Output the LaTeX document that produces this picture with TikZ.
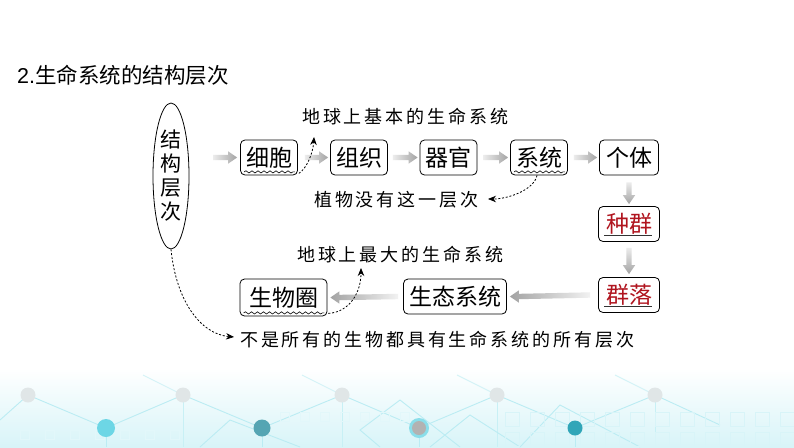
\documentclass[tikz,border=0pt]{standalone}
\usepackage{fontspec}
\setmainfont{Liberation Sans}
\newfontfamily\cjk{Noto Sans CJK SC}
\newfontfamily\cjknote[LetterSpace=16]{Noto Sans CJK SC}
\usetikzlibrary{arrows.meta,decorations.pathmorphing,shapes.geometric,calc}
\definecolor{qred}{HTML}{B0141E}
\definecolor{qcyan}{HTML}{3CC8DC}
\definecolor{qteal}{HTML}{2A8FA0}
\tikzset{
 lbox/.style={draw, line width=0.8pt, rounded corners=4.5pt, inner xsep=5.5pt, inner ysep=0pt, minimum height=35pt, font=\cjk\fontsize{23}{25}\selectfont},
 rbox/.style={lbox, text=qred, minimum width=61pt},
 note/.style={font=\cjknote\fontsize{18}{20}\selectfont, inner sep=0pt, anchor=west},
 dotarrow/.style={line width=0.8pt, dash pattern=on 2pt off 1.8pt, -{Stealth[length=8pt,width=6.5pt]}},
 wave/.style={line width=0.6pt, decorate, decoration={snake, segment length=6pt, amplitude=1.1pt}},
 bgline/.style={qcyan!35, line width=0.9pt},
 bgsq/.style={qcyan!20, line width=0.8pt},
}
\newcommand\garR[2]{\shade[left color=gray!15, right color=gray!72] ($(#1)+(0,2.7)$) -- ($(#2)+(-9,2.7)$) -- ($(#2)+(-9,6.2)$) -- (#2) -- ($(#2)+(-9,-6.2)$) -- ($(#2)+(-9,-2.7)$) -- ($(#1)+(0,-2.7)$) -- cycle;}
\newcommand\garL[2]{\shade[left color=gray!72, right color=gray!10] ($(#1)+(0,2.7)$) -- ($(#2)+(9,2.7)$) -- ($(#2)+(9,6.2)$) -- (#2) -- ($(#2)+(9,-6.2)$) -- ($(#2)+(9,-2.7)$) -- ($(#1)+(0,-2.7)$) -- cycle;}
\newcommand\garD[2]{\shade[top color=gray!15, bottom color=gray!72] ($(#1)+(2.7,0)$) -- ($(#2)+(2.7,-9)$) -- ($(#2)+(6.2,-9)$) -- (#2) -- ($(#2)+(-6.2,-9)$) -- ($(#2)+(-2.7,-9)$) -- ($(#1)+(-2.7,0)$) -- cycle;}
\begin{document}
\begin{tikzpicture}[x=1pt,y=-1pt]
\path[use as bounding box, fill=white] (0,0) rectangle (794,447);
% background decoration
\shade[top color=white, bottom color=qcyan!20] (0,368) rectangle (794,447);
\draw[bgline] (28,395) -- (106,428) -- (183,395) -- (262,428) -- (342,395) -- (419,428) -- (497,395) -- (575,428) -- (655,395) -- (720,425);
\draw[bgline] (0,420) -- (28,395);
\foreach \x in {106,262,419,575} {\draw[bgline] (\x,428) -- (\x,447);}
\foreach \x in {183,342,497,655} {\draw[bgline, qcyan!28] (\x,395) -- (\x,447); \draw[bgline, qcyan!22] (\x,395) -- (\x-40,375);}
\draw[bgline] (200,447) -- (230,420) -- (300,447);
\draw[bgline] (380,447) -- (360,430) -- (400,400) -- (460,447);
\draw[bgline] (430,447) -- (470,415) -- (520,447);
\draw[bgline] (520,447) -- (560,405) -- (640,447);
\foreach \x in {505,530,...,780} {\draw[bgsq] (\x,412) rectangle ++(14,14); \draw[bgsq] (\x,432) rectangle ++(14,14);}
\foreach \x in {20,45,...,170} {\draw[bgsq, qcyan!15] (\x,430) rectangle ++(9,9);}
\foreach \x in {280,300,...,400} {\draw[bgsq, qcyan!15] (\x,412) rectangle ++(9,9);}
\foreach \x in {28,183,342,497,655} {\fill[qcyan!20!gray!22] (\x,395) circle (7.5);}
\fill[qcyan!75] (106,428) circle (9);
\fill[qteal!80] (262,428) circle (8.5);
\fill[qcyan!60] (419,428) circle (10); \fill[gray!60] (419,428) circle (7);
\fill[qteal!60!qcyan] (575,428) circle (7.5);

% title
\node[anchor=west, inner sep=0pt, font=\fontsize{21.5}{24}\selectfont] (title) at (17,75) {2.{\cjk 生命系统的结构层次}};

% ellipse
\node[draw, ellipse, line width=0.8pt, minimum width=36pt, minimum height=146pt, inner sep=0pt, align=center, font=\cjk\fontsize{21}{24}\selectfont] (ell) at (171,176) {结\\构\\层\\次};

% boxes
\node[lbox] (xb) at (269,157.5) {细胞};
\node[lbox] (zz) at (359,157.5) {组织};
\node[lbox] (qg) at (448.5,157.5) {器官};
\node[lbox] (xt) at (539,157.5) {系统};
\node[lbox, minimum width=59pt] (gt) at (629,157.5) {个体};
\node[rbox] (zq) at (629,224) {种群};
\node[rbox] (ql) at (629,295) {群落};
\node[lbox] (st) at (455,296.5) {生态系统};
\node[lbox, minimum width=87pt, minimum height=37pt] (swq) at (283.5,297.5) {生物圈};

% wavy underlines
\draw[wave] ($(xb.south west)+(4,-3.5)$) -- ($(xb.south east)+(-3,-3.5)$);
\draw[wave] ($(xt.south west)+(4,-3.5)$) -- ($(xt.south east)+(-3,-3.5)$);
\draw[wave] ($(swq.south west)+(4,-3.5)$) -- ($(swq.south east)+(-3,-3.5)$);
% underlines under red
\draw[line width=0.9pt, black!80] ($(zq.south west)+(6,-6)$) -- ($(zq.south east)+(-8,-6)$);
\draw[line width=0.9pt, black!80] ($(ql.south west)+(6,-6)$) -- ($(ql.south east)+(-8,-6)$);

% gray arrows
\coordinate (a0s) at ($(xb.west)+(-27,0)$); \coordinate (a0e) at ($(xb.west)+(-3,0)$);
\coordinate (a1s) at ($(xb.east)+(7,0)$);   \coordinate (a1e) at ($(zz.west)+(-2,0)$);
\coordinate (a2s) at ($(zz.east)+(5,0)$);   \coordinate (a2e) at ($(qg.west)+(-2,0)$);
\coordinate (a3s) at ($(qg.east)+(6,0)$);   \coordinate (a3e) at ($(xt.west)+(-2,0)$);
\coordinate (a4s) at ($(xt.east)+(6,0)$);   \coordinate (a4e) at ($(gt.west)+(-2,0)$);
\coordinate (a5s) at ($(gt.south)+(0,7)$);  \coordinate (a5e) at ($(zq.north)+(0,-2)$);
\coordinate (a6s) at ($(zq.south)+(0,6)$);  \coordinate (a6e) at ($(ql.north)+(0,-3)$);
\coordinate (a7s) at ($(ql.west)+(-8,0)$);  \coordinate (a7e) at ($(st.east)+(3,0)$);
\coordinate (a8s) at ($(st.west)+(-5,0)$);  \coordinate (a8e) at ($(swq.east)+(3,0)$);
\garR{a0s}{a0e}
\garR{a1s}{a1e}
\garR{a2s}{a2e}
\garR{a3s}{a3e}
\garR{a4s}{a4e}
\garD{a5s}{a5e}
\garD{a6s}{a6e}
\garL{a7s}{a7e}
\garL{a8s}{a8e}

% notes
\node[note] (n1) at (302,117) {地球上基本的生命系统};
\node[note] (n2) at (314,200) {植物没有这一层次};
\node[note] (n3) at (297,255) {地球上最大的生命系统};
\node[note] (n4) at (240,340) {不是所有的生物都具有生命系统的所有层次};

% dotted arrows
\coordinate (t1) at (314,137);
\draw[dotarrow] ($(xb.south east)+(1,-2)$) .. controls (307,168) and (313,153) .. (t1);
\coordinate (t2) at (488,199);
\draw[dotarrow] ($(xt.south)+(-2,0)$) .. controls (534,190) and (508,199) .. (t2);
\coordinate (t3) at (361,268);
\draw[dotarrow] ($(swq.south east)+(1,-3)$) .. controls (350,312) and (361,292) .. (t3);
\coordinate (t4) at (234,337);
\draw[dotarrow] (ell.south) .. controls (176,300) and (200,334) .. (t4);
\end{tikzpicture}
\end{document}
